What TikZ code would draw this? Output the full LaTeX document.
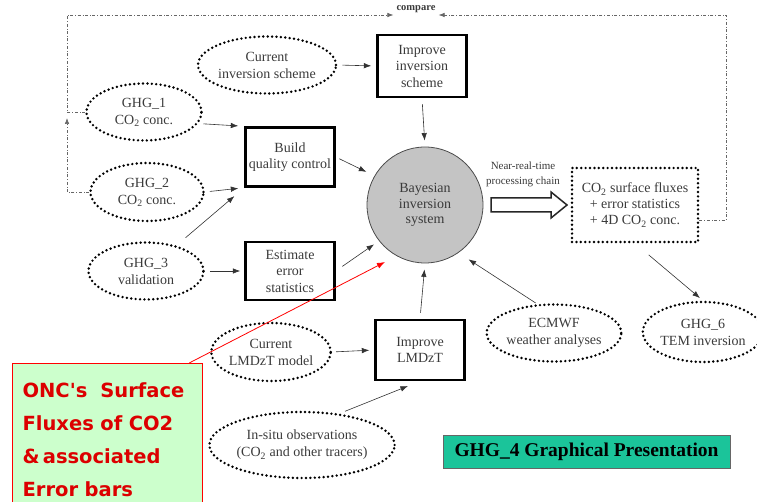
\documentclass[tikz,border=0pt]{standalone}
\usepackage{fontspec}
\setmainfont{Liberation Serif}
\newfontfamily\comicfont{DejaVu Sans}
\usetikzlibrary{shapes.geometric,arrows.meta}
\definecolor{txt}{HTML}{3A3A3A}
\definecolor{onegreen}{HTML}{CCFFCC}
\definecolor{onered}{HTML}{DC0000}
\definecolor{banner}{HTML}{1BC49A}
\definecolor{bayfill}{HTML}{C4C4C4}
\begin{document}
\begin{tikzpicture}[x=1pt,y=-1pt,
  dotline/.style={line width=2.7pt, dash pattern=on 0pt off 4.4pt, line cap=round},
  ell/.style={ellipse, draw, dotline, text=txt, align=center, inner sep=0pt,
    font=\fontsize{14}{17}\selectfont},
  box/.style={rectangle, draw, line width=2.4pt, text=txt, align=center, inner sep=0pt,
    font=\fontsize{14}{16.5}\selectfont},
  arr/.style={-{Latex[length=7.5pt,width=5.5pt]}, line width=0.6pt, draw=black!80},
  dd/.style={dash dot, line width=0.6pt, draw=black!60, -{Latex[length=6pt,width=4.5pt]}}
]
\useasboundingbox (0,0) rectangle (757,502);

% top row
\node[ell, minimum width=115pt, minimum height=57pt] (cis) at (267,65) {Current\\inversion scheme};
\node[box, minimum width=89pt, minimum height=62pt] (iis) at (422,66) {Improve\\inversion\\scheme};

% left column
\node[ell, minimum width=115pt, minimum height=57pt] (g1) at (144,112) {GHG\_1\\CO\textsubscript{2} conc.};
\node[ell, minimum width=113pt, minimum height=58pt] (g2) at (147,192) {GHG\_2\\CO\textsubscript{2} conc.};
\node[ell, minimum width=115pt, minimum height=57pt] (g3) at (146,271) {GHG\_3\\validation};

\node[box, minimum width=89pt, minimum height=59pt] (bqc) at (290,157) {Build\\quality control};
\node[box, minimum width=89pt, minimum height=58pt] (eest) at (290,271) {Estimate\\error\\statistics};

% centre
\node[circle, draw=black!70, line width=0.8pt, fill=bayfill, minimum size=116pt, inner sep=0pt,
  text=txt, align=center, font=\fontsize{14}{15.5}\selectfont] (bay) at (425,205) {Bayesian\\inversion\\system};

% right
\node[rectangle, draw, dotline, minimum width=126pt, minimum height=74pt, inner sep=0pt,
  text=txt, align=center, font=\fontsize{14}{16}\selectfont] (co2) at (635,205)
  {CO\textsubscript{2} surface fluxes\\+ error statistics\\+ 4D CO\textsubscript{2} conc.};
\node[text=txt, align=center, inner sep=0pt, font=\fontsize{11}{15}\selectfont] (nrt) at (523,174)
  {Near-real-time\\processing chain};
\draw[line width=1.5pt, draw=black!85, fill=white] (491,198) -- (551,198) -- (551,192) -- (567,205)
  -- (551,218) -- (551,212) -- (491,212) -- cycle;

\node[ell, minimum width=110pt, minimum height=60pt] (g6) at (703,332) {GHG\_6\\TEM inversion};
\node[ell, minimum width=115pt, minimum height=57pt] (ecm) at (554,333) {ECMWF\\weather analyses};

% bottom
\node[ell, minimum width=108pt, minimum height=58pt] (clm) at (271,352) {Current\\LMDzT model};
\node[box, minimum width=89pt, minimum height=60pt] (ilm) at (420,350) {Improve\\LMDzT};
\node[ell, minimum width=152pt, minimum height=66pt] (ins) at (302,445)
  {In-situ observations\\(CO\textsubscript{2} and other tracers)};

\node[rectangle, draw=black!60, line width=0.8pt, fill=banner, minimum width=287pt, minimum height=33pt,
  inner sep=0pt, font=\fontsize{19.5}{22}\selectfont\bfseries] (ban) at (586.5,451.5)
  {GHG\_4 Graphical Presentation};

\node[rectangle, draw=red, line width=1.2pt, fill=onegreen, anchor=north west,
  minimum width=190pt, minimum height=153pt, text width=170pt, align=left, inner sep=0pt,
  text=onered, font=\comicfont\fontsize{19.5}{33}\selectfont\bfseries] (onc) at (12,363)
  {ONC's\ \ Surface\\Fluxes of CO2\\\&\,associated\\Error bars};

% compare
\node[text=txt, inner sep=0pt, font=\fontsize{10.5}{12}\selectfont\bfseries] (cmp) at (416,9) {compare};
\coordinate (lt) at (67,15);
\coordinate (rt) at (726,15);
\coordinate (redtip) at (385,262);

% connectors
\draw[arr, shorten <=5pt, shorten >=5pt] (cis.east) -- (iis.west);
\draw[arr, shorten <=6pt, shorten >=6pt] (iis.south) -- (bay.north);
\draw[arr, shorten <=5pt, shorten >=6pt] (g1.-12) -- (bqc.north west);
\draw[arr, shorten <=5pt, shorten >=6pt] (g2.east) -- (bqc.south west);
\draw[arr, shorten <=12pt, shorten >=13pt] (g3.40) -- (bqc.south west);
\draw[arr, shorten <=5pt, shorten >=4pt] (g3.east) -- (eest.west);
\draw[arr, shorten <=4pt, shorten >=9pt] (bqc.east) -- (bay.150);
\draw[arr, shorten <=8pt, shorten >=6pt] (eest.east) -- (bay.218);
\draw[arr, shorten <=4pt, shorten >=5pt] (clm.east) -- (ilm.west);
\draw[arr, shorten <=6pt, shorten >=6pt] (ilm.north) -- (bay.south);
\draw[arr, shorten <=6pt, shorten >=13pt] (ins.40) -- (ilm.south);
\draw[arr, shorten <=2pt, shorten >=12pt] (ecm.120) -- (bay.-55);
\draw[arr, shorten <=18pt, shorten >=4pt] (co2.south) -- (g6.north);
\draw[-{Latex[length=8pt,width=6pt]}, draw=red, line width=0.8pt] ([xshift=-14pt]onc.north east) -- (redtip);

% feedback loop
\draw[dd, shorten >=6pt] (g2.west) -| (g1.west -| lt);
\draw[dd, shorten >=3pt] (g1.west) -| (lt) -- (lt -| cmp.west);
\draw[dd, shorten >=3pt] (co2.-13) -| (rt) -- (rt -| cmp.east);
\end{tikzpicture}
\end{document}
